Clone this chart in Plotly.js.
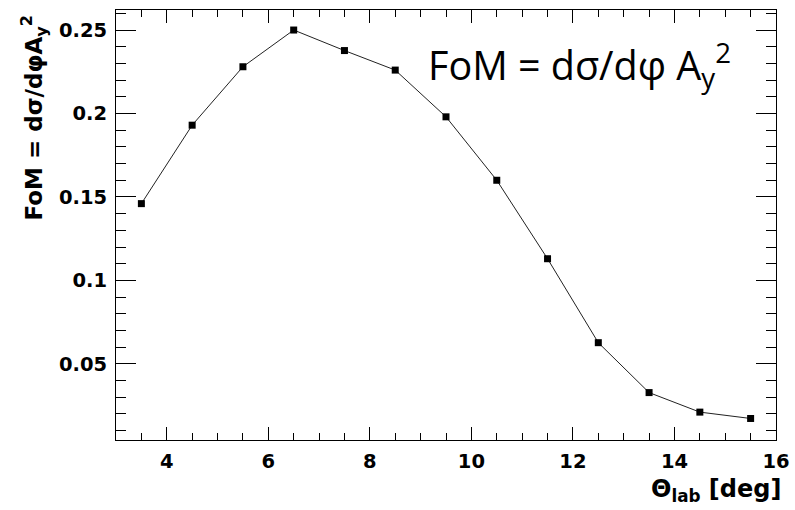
<!DOCTYPE html>
<html>
<head>
<meta charset="utf-8">
<script src="https://cdn.plot.ly/plotly-3.0.1.min.js"></script>
<style>
  html, body { margin: 0; padding: 0; background: #fff; }
  #chart { width: 795px; height: 510px; }
</style>
</head>
<body>
<div id="chart"></div>
<script>
// Scattering angle in the lab frame (deg)
const thetaLab = [3.5, 4.5, 5.5, 6.5, 7.5, 8.5, 9.5, 10.5, 11.5, 12.5, 13.5, 14.5, 15.5];
// Figure of merit dσ/dφ · A_y²
const fom = [0.146, 0.193, 0.228, 0.250, 0.2377, 0.226, 0.198, 0.160, 0.113, 0.0627, 0.0328, 0.0211, 0.0173];

const axisFont = { family: 'DejaVu Sans', size: 19.5, color: '#000', weight: 'bold' };

const trace = {
  x: thetaLab,
  y: fom,
  type: 'scatter',
  mode: 'lines+markers',
  line: { color: '#222', width: 1 },
  marker: { symbol: 'square', size: 7, color: '#000' },
  showlegend: false,
  hoverinfo: 'skip'
};

const layout = {
  width: 795,
  height: 510,
  margin: { l: 116, r: 19, t: 10, b: 70 },
  paper_bgcolor: '#fff',
  plot_bgcolor: '#fff',
  showlegend: false,
  xaxis: {
    range: [3, 16],
    tick0: 0,
    dtick: 2,
    ticks: 'inside',
    ticklen: 13,
    tickwidth: 1,
    tickcolor: '#000',
    showline: true,
    linecolor: '#000',
    linewidth: 1,
    mirror: 'allticks',
    showgrid: false,
    zeroline: false,
    tickfont: axisFont,
    ticklabelstandoff: 4,
    minor: { dtick: 0.5, tick0: 0, ticks: 'inside', ticklen: 7, tickwidth: 1, tickcolor: '#000', showgrid: false }
  },
  yaxis: {
    range: [0.0044, 0.262],
    tick0: 0,
    dtick: 0.05,
    ticks: 'inside',
    ticklen: 20,
    tickwidth: 1,
    tickcolor: '#000',
    showline: true,
    linecolor: '#000',
    linewidth: 1,
    mirror: 'allticks',
    showgrid: false,
    zeroline: false,
    tickfont: axisFont,
    ticklabelstandoff: 4,
    minor: { dtick: 0.01, tick0: 0, ticks: 'inside', ticklen: 10, tickwidth: 1, tickcolor: '#000', showgrid: false }
  },
  annotations: [
    {
      // formula label inside the frame
      text: 'FoM = dσ/dφ A<sub>y</sub><sup>2</sup>',
      xref: 'paper', yref: 'paper',
      x: 0.469, y: 0.874,
      xanchor: 'left', yanchor: 'middle',
      showarrow: false,
      font: { family: 'Open Sans', size: 39.5, color: '#000' }
    },
    {
      // x-axis title, right-aligned to the axis end
      text: 'Θ<sub>lab</sub> [deg]',
      xref: 'paper', yref: 'paper',
      x: 1.01, y: -0.118,
      xanchor: 'right', yanchor: 'middle',
      showarrow: false,
      font: { family: 'DejaVu Sans', size: 24, color: '#000', weight: 'bold' }
    },
    {
      // y-axis title, aligned to the top of the axis
      text: 'FoM = dσ/dφA<sub>y</sub><sup>2</sup>',
      xref: 'paper', yref: 'paper',
      x: -0.125, y: 0.993,
      xanchor: 'center', yanchor: 'top',
      textangle: -90,
      showarrow: false,
      font: { family: 'DejaVu Sans', size: 23, color: '#000', weight: 'bold' }
    }
  ]
};

Plotly.newPlot('chart', [trace], layout, { staticPlot: true, displayModeBar: false });
</script>
</body>
</html>
